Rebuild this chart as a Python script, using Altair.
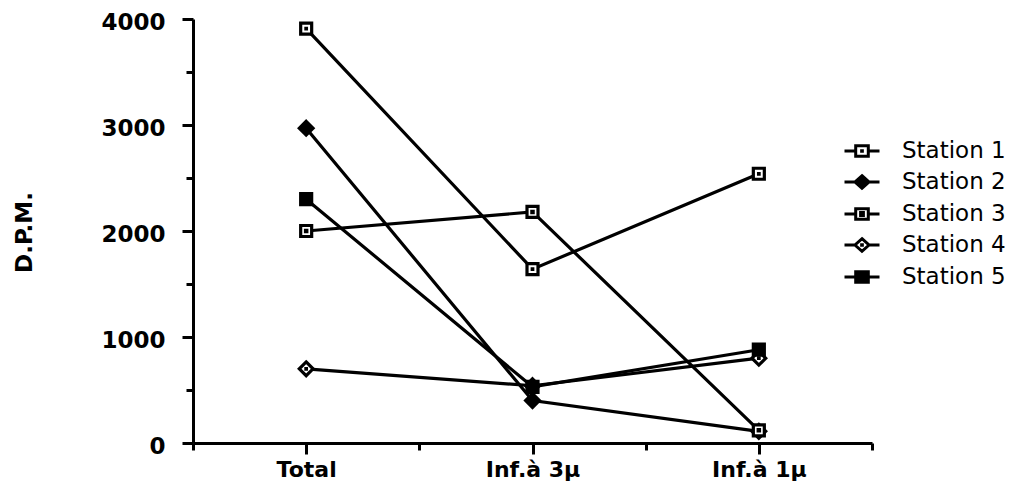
import altair as alt
import pandas as pd

categories = ["Total", "Inf.à 3µ", "Inf.à 1µ"]
cat_pos = [1, 3, 5]
stations = ["Station 1", "Station 2", "Station 3", "Station 4", "Station 5"]
station1 = [3910, 1640, 2540]
station2 = [2970, 400, 110]
station3 = [2000, 2180, 120]
station4 = [700, 540, 800]
station5 = [2300, 530, 880]
series = [station1, station2, station3, station4, station5]

rows = []
for name, vals in zip(stations, series):
    for cat, pos, v in zip(categories, cat_pos, vals):
        rows.append({"station": name, "category": cat, "pos": pos, "dpm": v})
df = pd.DataFrame(rows)

# marker shapes (plot) and legend shapes (with line stubs)
dot = "M-0.05,-0.05H0.05V0.05H-0.05Z"
sq = "M-1,-1H1V1H-1Z"
dia = "M0,-1.25L1.25,0L0,1.25L-1.25,0Z"
marker_shapes = [sq + dot, dia, sq + "M-0.12,-0.12H0.12V0.12H-0.12Z", dia + dot, sq]
marker_fill = ["white", "black", "white", "white", "black"]
marker_stroke = ["black"] * 5

stub = "M-1,0H-0.3M0.3,0H1"
lsq = "M-0.36,-0.3H0.36V0.3H-0.36Z"
ldia = "M0,-0.36L0.4,0L0,0.36L-0.4,0Z"
ldot = "M-0.02,-0.02H0.02V0.02H-0.02Z"
legend_shapes = [stub + lsq + ldot, stub + ldia, stub + lsq + "M-0.08,-0.08H0.08V0.08H-0.08Z",
                 stub + ldia + ldot, stub + lsq]

label_expr = " : ".join(
    [f"datum.value == {p} ? '{c}'" for p, c in zip(cat_pos, categories)]
) + " : ''"

x_enc = alt.X("pos:Q", scale=alt.Scale(domain=[0, 6], nice=False, zero=False),
              axis=alt.Axis(values=[0, 1, 2, 3, 4, 5, 6], labelExpr=label_expr, title=None,
                            tickSize={"condition": {"test": "datum.value % 2 == 1", "value": 11}, "value": 7},
                            labelPadding=5, labelFontSize=22))
y_enc = alt.Y("dpm:Q", scale=alt.Scale(domain=[0, 4000], nice=False),
              axis=alt.Axis(values=list(range(0, 4001, 500)), format="d",
                            labelExpr="datum.value % 1000 === 0 ? datum.label : ''",
                            tickSize={"condition": {"test": "datum.value % 1000 === 0", "value": 11}, "value": 7},
                            labelPadding=17, labelFontSize=23, labelOffset=3,
                            title="D.P.M.", titleX=-169, titleY=213,
                            titleAngle=-90, titleAlign="center", titleBaseline="middle",
                            titleFontSize=23, titleFont="DejaVu Sans", titleFontWeight="bold"))

base = alt.Chart(df)

lines = base.mark_line(color="black", strokeWidth=3.2).encode(
    x=x_enc, y=y_enc, detail="station:N", order="pos:Q"
)

points = base.mark_point(filled=True, size=121, stroke="black", strokeWidth=3.2, opacity=1).encode(
    x=x_enc, y=y_enc,
    shape=alt.Shape("station:N", scale=alt.Scale(domain=stations, range=marker_shapes), legend=None),
    fill=alt.Fill("station:N", scale=alt.Scale(domain=stations, range=marker_fill), legend=None),
)

leg = dict(title=None, orient="none", legendX=650, legendY=113,
           symbolSize=1225, symbolStrokeWidth=3, symbolOpacity=1,
           symbolStrokeColor="black", labelFont="DejaVu Sans",
           labelFontSize=23, labelColor="black", labelOffset=21,
           padding=0, rowPadding=0)

legend_layer = base.mark_point(filled=True, opacity=1, strokeWidth=3).encode(
    x=x_enc, y=y_enc,
    shape=alt.Shape("station:N", scale=alt.Scale(domain=stations, range=legend_shapes),
                    legend=alt.Legend(**leg)),
    fill=alt.Fill("station:N", scale=alt.Scale(domain=stations, range=marker_fill),
                  legend=alt.Legend(**leg)),
    stroke=alt.Stroke("station:N", scale=alt.Scale(domain=stations, range=marker_stroke),
                      legend=alt.Legend(**leg)),
).transform_filter("datum.dpm < 0")

chart = alt.layer(lines, legend_layer, points).resolve_scale(
    shape="independent", fill="independent", stroke="independent"
).properties(
    width=679, height=424,
    autosize=alt.AutoSizeParams(type="none"),
    padding={"left": 185, "top": 11, "right": 140, "bottom": 42},
    background="white",
).configure_view(stroke=None).configure_axis(
    grid=False, domainColor="black", domainWidth=3, tickColor="black", tickWidth=3,
    labelFont="DejaVu Sans", labelFontWeight="bold", labelFontSize=22, labelColor="black",
    titleColor="black",
)

chart.save("out.html", embed_options={"renderer": "svg", "actions": False})
